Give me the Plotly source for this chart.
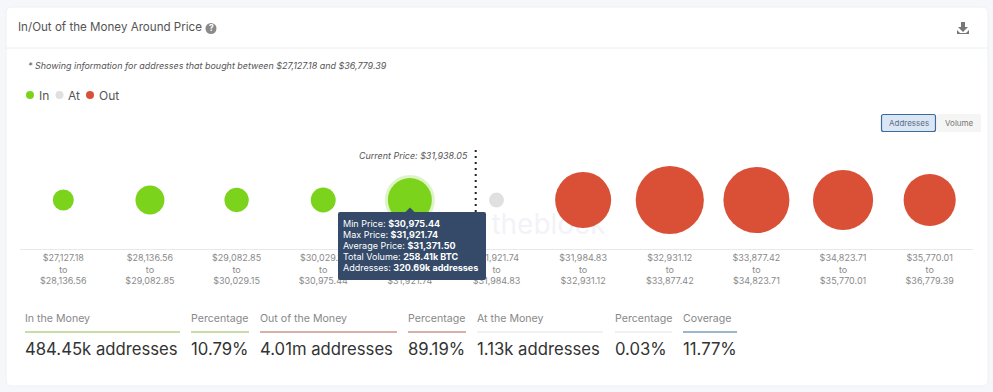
import plotly.graph_objects as go

W, H = 993, 392
ML, MR, MT, MB = 20, 20, 140, 143
FONT = "Inter, 'Noto Sans', sans-serif"

lower = ["$27,127.18", "$28,136.56", "$29,082.85", "$30,029.15", "$30,975.44", "$31,921.74",
         "$31,984.83", "$32,931.12", "$33,877.42", "$34,823.71", "$35,770.01"]
upper = ["$28,136.56", "$29,082.85", "$30,029.15", "$30,975.44", "$31,921.74", "$31,984.83",
         "$32,931.12", "$33,877.42", "$34,823.71", "$35,770.01", "$36,779.39"]
in_idx = [0, 1, 2, 3, 4]
in_vals = [73, 139, 98, 103, 320.69]
at_idx = [5]
at_vals = [37]
out_idx = [6, 7, 8, 9, 10]
out_vals = [520, 770, 723, 600, 450]
current_price_pos = 4.76
stats = [("In the Money", "484.45k addresses", 25, 180, "#8fbc4e"),
         ("Percentage", "10.79%", 191, 249, "#8fbc4e"),
         ("Out of the Money", "4.01m addresses", 260, 397, "#b5604c"),
         ("Percentage", "89.19%", 408, 466, "#b5604c"),
         ("At the Money", "1.13k addresses", 477, 603, "#e4e4e4"),
         ("Percentage", "0.03%", 615, 672, "#e4e4e4"),
         ("Coverage", "11.77%", 683, 737, "#3b6f98")]
tooltip_lines = [("Min Price: ", "$30,975.44"), ("Max Price: ", "$31,921.74"),
                 ("Average Price: ", "$31,371.50"), ("Total Volume: ", "258.41k BTC"),
                 ("Addresses: ", "320.69k addresses")]
legend_items = [("In", 30, 38, "#7cd31c"), ("At", 59.5, 67, "#e0e0e0"), ("Out", 90, 98, "#d95037")]

ticktext = [f"{a}<br>to<br>{b}" for a, b in zip(lower, upper)]
px = lambda v: (v - ML) / (W - ML - MR)
py = lambda v: 1 - (v - MT) / (H - MT - MB)


def note(x, y, text, size=10, color="#666", anchor="left"):
    dx = {"left": -2, "right": 2, "center": 0}[anchor]
    return dict(x=px(x + dx), y=py(y), xref="paper", yref="paper", text=text, showarrow=False,
                xanchor=anchor, yanchor="middle", font=dict(family=FONT, size=size, color=color))


def rrect(x0, y0, x1, y1, r):
    return (f"M{px(x0+r)},{py(y0)} L{px(x1-r)},{py(y0)} Q{px(x1)},{py(y0)} {px(x1)},{py(y0+r)} "
            f"L{px(x1)},{py(y1-r)} Q{px(x1)},{py(y1)} {px(x1-r)},{py(y1)} "
            f"L{px(x0+r)},{py(y1)} Q{px(x0)},{py(y1)} {px(x0)},{py(y1-r)} "
            f"L{px(x0)},{py(y0+r)} Q{px(x0)},{py(y0)} {px(x0+r)},{py(y0)} Z")


sizeref = 2 * 320.69 / 44 ** 2
fig = go.Figure()
fig.add_trace(go.Scatter(x=[5.6], y=[-27], mode="text", text=["theblock"], hoverinfo="skip",
                         textfont=dict(family=FONT, size=28, color="#f2f3f6")))
series = [("In", in_idx, in_vals, "#7cd31c"), ("At", at_idx, at_vals, "#e0e0e0"), ("Out", out_idx, out_vals, "#d95037")]
for name, idx, vals, col in series:
    is_in = name == "In"
    fig.add_trace(go.Scatter(
        x=idx, y=[0] * len(idx), mode="markers", name=name,
        marker=dict(size=vals, sizemode="area", sizeref=sizeref, sizemin=2, color=col, opacity=1,
                    line=dict(color="rgba(124,211,28,0.25)", width=[6 if v == max(vals) else 0 for v in vals]) if is_in
                    else dict(width=0)),
        hoverinfo="skip"))

shapes = [
    dict(type="path", path=rrect(6, 7, 988, 386, 6), xref="paper", yref="paper", fillcolor="white",
         line=dict(color="#eef0f3", width=1), layer="below"),
    dict(type="line", xref="paper", yref="paper", x0=px(6), x1=px(988), y0=py(48), y1=py(48),
         line=dict(color="#eceef1", width=1), layer="below"),
    dict(type="line", xref="x", yref="paper", x0=current_price_pos, x1=current_price_pos, y0=py(150), y1=py(250),
         line=dict(color="#222", width=2, dash="2px,4px")),
    dict(type="circle", xref="paper", yref="paper", x0=px(205.5), x1=px(216.5), y0=py(23), y1=py(34),
         fillcolor="#8a8a8a", line=dict(width=0)),
    dict(type="path", xref="paper", yref="paper",
         path=f"M{px(961)},{py(22)} L{px(965)},{py(22)} L{px(965)},{py(27)} L{px(968)},{py(27)} L{px(963)},{py(32)} "
              f"L{px(958)},{py(27)} L{px(961)},{py(27)} Z M{px(957)},{py(30)} L{px(960)},{py(33)} L{px(966)},{py(33)} "
              f"L{px(969)},{py(30)} L{px(969)},{py(34)} L{px(957)},{py(34)} Z",
         fillcolor="#777", line=dict(width=0)),
    dict(type="path", xref="paper", yref="paper", path=rrect(881.5, 114.5, 935.5, 131.5, 2),
         fillcolor="#dbe6f5", line=dict(color="#3d6a9c", width=1.2)),
    dict(type="path", xref="paper", yref="paper", path=rrect(937, 114, 981, 132, 2),
         fillcolor="#f5f5f5", line=dict(width=0)),
    dict(type="path", xref="paper", yref="paper",
         path=f"M{px(405)},{py(212.5)} L{px(410)},{py(207.5)} L{px(415)},{py(212.5)} Z", fillcolor="#344a68",
         line=dict(width=0)),
    dict(type="path", xref="paper", yref="paper", path=rrect(338, 212, 486, 280, 2), fillcolor="#344a68",
         line=dict(width=0)),
]
annotations = [
    note(18, 27, "In/Out of the Money Around Price", 11.6, "#555"),
    note(211, 28.5, "<b>?</b>", 8.5, "white", anchor="center"),
    note(28, 65.5, "<i>* Showing information for addresses that bought between $27,127.18 and $36,779.39</i>", 8.95, "#555"),
    note(908.5, 123, "Addresses", 8, "#5b6f87", anchor="center"),
    note(959, 123, "Volume", 8, "#777", anchor="center"),
    note(468, 155, "<i>Current Price: $31,938.05</i>", 8.95, "#555", anchor="right"),
]
for i, (a, b) in enumerate(tooltip_lines):
    annotations.append(note(343, 223 + 11 * i, f"{a}<b>{b}</b>", 9, "white"))
for name, cx, tx, col in legend_items:
    shapes.append(dict(type="circle", xref="paper", yref="paper", x0=px(cx - 4), x1=px(cx + 4),
                       y0=py(91), y1=py(99), fillcolor=col, line=dict(width=0)))
    annotations.append(note(tx + 1, 95, name, 12, "#555"))
for label, value, x0, x1, col in stats:
    annotations.append(note(x0, 318, label, 10.6, "#888"))
    annotations.append(note(x0, 349, value, 16.7, "#333"))
    shapes.append(dict(type="line", xref="paper", yref="paper", x0=px(x0), x1=px(x1), y0=py(332), y1=py(332),
                       line=dict(color=col, width=1.2)))

fig.update_layout(
    width=W, height=H, margin=dict(l=ML, r=MR, t=MT, b=MB, pad=0), paper_bgcolor="#f5f7fa", plot_bgcolor="rgba(0,0,0,0)",
    font=dict(family=FONT),
    showlegend=False,
    xaxis=dict(range=[-0.5, 10.5], tickmode="array", tickvals=list(range(11)), ticktext=ticktext,
               tickfont=dict(family=FONT, size=9, color="#8a8a8a"), showgrid=False, zeroline=False,
               showline=True, linecolor="#e6e8ec", linewidth=1, ticks="", tickangle=0, fixedrange=True),
    yaxis=dict(range=[-49, 60], visible=False, fixedrange=True),
    shapes=shapes, annotations=annotations,
)
fig.write_html("out.html", config=dict(displayModeBar=False),
               post_script="document.body.style.margin='0';document.body.style.overflow='hidden';")
